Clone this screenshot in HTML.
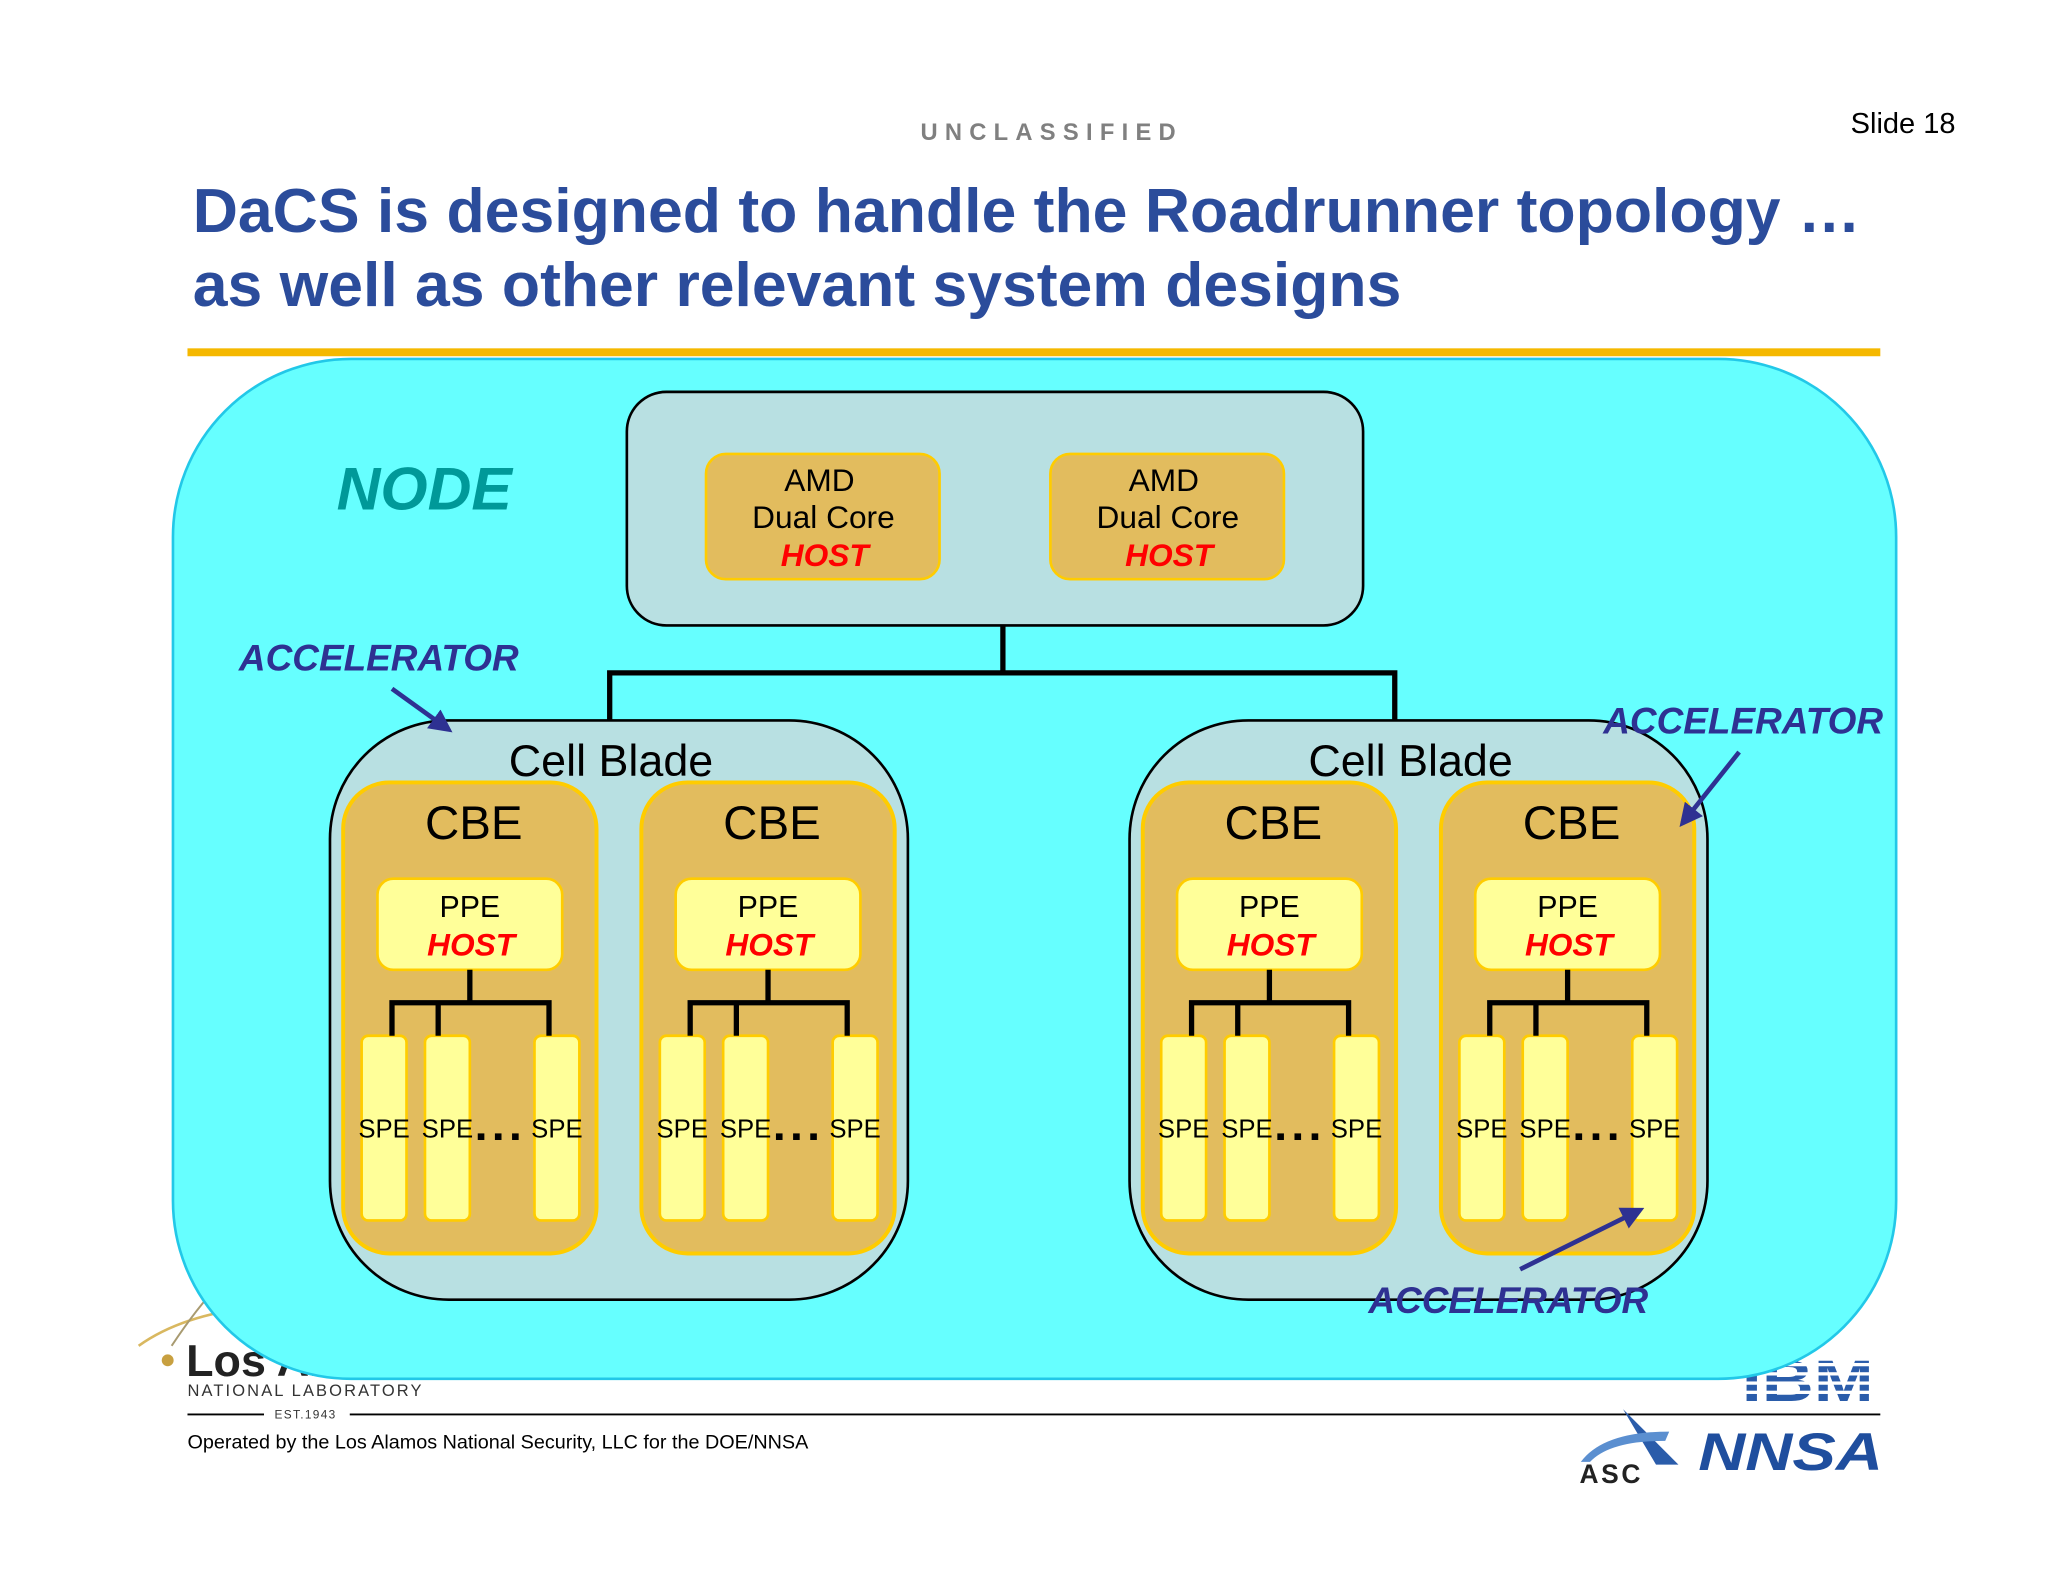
<!DOCTYPE html>
<html><head><meta charset="utf-8"><style>
html,body{margin:0;padding:0;background:#fff;}
svg{display:block;}
text{font-family:"Liberation Sans",Arial,sans-serif;}
</style></head><body>
<svg width="2048" height="1582" viewBox="0 0 1552 1199" xmlns="http://www.w3.org/2000/svg">
<defs>
<marker id="ah" markerWidth="5" markerHeight="5" refX="4" refY="2.5" orient="auto" markerUnits="strokeWidth">
<path d="M0,0 L5,2.5 L0,5 Z" fill="#2E3192"/></marker>
</defs>
<rect width="1552" height="1199" fill="#fff"/>
<text x="797" y="106" text-anchor="middle" font-size="18" font-weight="bold" fill="#808080" letter-spacing="5.5">UNCLASSIFIED</text>
<text x="1482" y="101" text-anchor="end" font-size="22" fill="#000">Slide 18</text>
<text x="146" y="176" font-size="47" font-weight="bold" fill="#2B4C9B" textLength="1264" lengthAdjust="spacingAndGlyphs">DaCS is designed to handle the Roadrunner topology …</text>
<text x="146" y="232" font-size="47" font-weight="bold" fill="#2B4C9B" textLength="916" lengthAdjust="spacingAndGlyphs">as well as other relevant system designs</text>
<rect x="142" y="264" width="1283" height="6" fill="#F5B800"/>

<path d="M105,1020 Q140,995 200,990" stroke="#D9B860" stroke-width="2" fill="none"/>
<path d="M130,1020 Q150,990 165,975" stroke="#A89A70" stroke-width="1.5" fill="none"/>
<circle cx="127" cy="1031" r="4.5" fill="#C8A040"/>
<text x="141" y="1043" font-size="34" font-weight="bold" fill="#222">Los Alamos</text>
<text x="142" y="1058" font-size="12.5" fill="#333" letter-spacing="1.6">NATIONAL LABORATORY</text>
<text x="208" y="1075" font-size="9" fill="#333" letter-spacing="1">EST.1943</text>
<line x1="142" y1="1072" x2="200" y2="1072" stroke="#000" stroke-width="1.5"/>
<line x1="265" y1="1072" x2="1425" y2="1072" stroke="#000" stroke-width="1.5"/>
<text x="142" y="1098" font-size="15" fill="#000">Operated by the Los Alamos National Security, LLC for the DOE/NNSA</text>

<text x="1320" y="1062" font-size="44" font-weight="bold" fill="#2A5CAA" textLength="100" lengthAdjust="spacingAndGlyphs">IBM</text>
<g fill="#fff">
<rect x="1318" y="1033" width="105" height="2.5"/><rect x="1318" y="1040" width="105" height="2.5"/>
<rect x="1318" y="1047" width="105" height="2.5"/><rect x="1318" y="1054" width="105" height="2.5"/>
</g>
<path d="M1230,1068 L1272,1110 L1255,1110 Z" fill="#2A5CAA"/>
<path d="M1198,1108 Q1215,1085 1265,1085 L1262,1092 Q1220,1092 1205,1108 Z" fill="#5B8FD0"/>
<text x="1197" y="1124" font-size="20" font-weight="bold" fill="#222" letter-spacing="2">ASC</text>
<text x="1287" y="1114" font-size="40" font-weight="bold" font-style="italic" fill="#1F4E9E" textLength="140" lengthAdjust="spacingAndGlyphs">NNSA</text>

<rect x="131" y="272" width="1306" height="773" rx="135" fill="#66FFFF" stroke="#22C8E8" stroke-width="2"/>
<text x="255" y="386" font-size="46" font-weight="bold" font-style="italic" fill="#009999">NODE</text>

<rect x="475" y="297" width="558" height="177" rx="30" fill="#B8E0E2" stroke="#000" stroke-width="2"/>
<rect x="535" y="344" width="177" height="95" rx="15" fill="#E2BC5E" stroke="#FFCC00" stroke-width="2"/>
<rect x="796" y="344" width="177" height="95" rx="15" fill="#E2BC5E" stroke="#FFCC00" stroke-width="2"/>
<g font-size="24" text-anchor="middle">
<text x="621" y="372">AMD</text><text x="624" y="400">Dual Core</text>
<text x="625" y="429" fill="#FF0000" font-weight="bold" font-style="italic">HOST</text>
<text x="882" y="372">AMD</text><text x="885" y="400">Dual Core</text>
<text x="886" y="429" fill="#FF0000" font-weight="bold" font-style="italic">HOST</text>
</g>
<path d="M760,474 V510 M462,546 V510 H1057 V546" stroke="#000" stroke-width="4" fill="none"/>

<rect x="250" y="546" width="438" height="439" rx="90" fill="#B8E0E2" stroke="#000" stroke-width="2"/>
<rect x="856" y="546" width="438" height="439" rx="90" fill="#B8E0E2" stroke="#000" stroke-width="2"/>
<text x="463" y="588" font-size="34" text-anchor="middle">Cell Blade</text>
<text x="1069" y="588" font-size="34" text-anchor="middle">Cell Blade</text>

<g stroke="#FFCC00" stroke-width="3" fill="#E2BC5E">
<rect x="260" y="593" width="192" height="357" rx="35"/>
<rect x="486" y="593" width="192" height="357" rx="35"/>
<rect x="866" y="593" width="192" height="357" rx="35"/>
<rect x="1092" y="593" width="192" height="357" rx="35"/>
</g>
<g font-size="36" text-anchor="middle">
<text x="359" y="636">CBE</text><text x="585" y="636">CBE</text>
<text x="965" y="636">CBE</text><text x="1191" y="636">CBE</text>
</g>
<g stroke="#FFCC00" stroke-width="2" fill="#FFFF99">
<rect x="286" y="666" width="140" height="69" rx="12"/>
<rect x="512" y="666" width="140" height="69" rx="12"/>
<rect x="892" y="666" width="140" height="69" rx="12"/>
<rect x="1118" y="666" width="140" height="69" rx="12"/>
<rect x="274" y="785" width="34" height="140" rx="5"/><rect x="322" y="785" width="34" height="140" rx="5"/><rect x="405" y="785" width="34" height="140" rx="5"/>
<rect x="500" y="785" width="34" height="140" rx="5"/><rect x="548" y="785" width="34" height="140" rx="5"/><rect x="631" y="785" width="34" height="140" rx="5"/>
<rect x="880" y="785" width="34" height="140" rx="5"/><rect x="928" y="785" width="34" height="140" rx="5"/><rect x="1011" y="785" width="34" height="140" rx="5"/>
<rect x="1106" y="785" width="34" height="140" rx="5"/><rect x="1154" y="785" width="34" height="140" rx="5"/><rect x="1237" y="785" width="34" height="140" rx="5"/>
</g>
<g font-size="23" text-anchor="middle">
<text x="356" y="695">PPE</text><text x="582" y="695">PPE</text><text x="962" y="695">PPE</text><text x="1188" y="695">PPE</text>
</g>
<g font-size="24" text-anchor="middle" fill="#FF0000" font-weight="bold" font-style="italic">
<text x="357" y="724">HOST</text><text x="583" y="724">HOST</text><text x="963" y="724">HOST</text><text x="1189" y="724">HOST</text>
</g>
<g stroke="#000" stroke-width="4" fill="none">
<path d="M356,735 V760 M297,785 V760 H416 V785 M332,760 V785"/>
<path d="M582,735 V760 M523,785 V760 H642 V785 M558,760 V785"/>
<path d="M962,735 V760 M903,785 V760 H1022 V785 M938,760 V785"/>
<path d="M1188,735 V760 M1129,785 V760 H1248 V785 M1164,760 V785"/>
</g>
<g font-size="19.5" text-anchor="middle">
<text x="291" y="862">SPE</text><text x="339" y="862">SPE</text><text x="422" y="862">SPE</text>
<text x="517" y="862">SPE</text><text x="565" y="862">SPE</text><text x="648" y="862">SPE</text>
<text x="897" y="862">SPE</text><text x="945" y="862">SPE</text><text x="1028" y="862">SPE</text>
<text x="1123" y="862">SPE</text><text x="1171" y="862">SPE</text><text x="1254" y="862">SPE</text>
</g>
<g fill="#000">
<rect x="362" y="859" width="5" height="5"/><rect x="375" y="859" width="5" height="5"/><rect x="388" y="859" width="5" height="5"/>
<rect x="588" y="859" width="5" height="5"/><rect x="601" y="859" width="5" height="5"/><rect x="614" y="859" width="5" height="5"/>
<rect x="968" y="859" width="5" height="5"/><rect x="981" y="859" width="5" height="5"/><rect x="994" y="859" width="5" height="5"/>
<rect x="1194" y="859" width="5" height="5"/><rect x="1207" y="859" width="5" height="5"/><rect x="1220" y="859" width="5" height="5"/>
</g>

<g font-size="28" font-weight="bold" font-style="italic" fill="#2E3192">
<text x="181" y="508">ACCELERATOR</text>
<text x="1215" y="556">ACCELERATOR</text>
<text x="1037" y="995">ACCELERATOR</text>
</g>
<g stroke="#2E3192" stroke-width="3.5" fill="none" marker-end="url(#ah)">
<line x1="297" y1="522" x2="340" y2="553"/>
<line x1="1318" y1="570" x2="1275" y2="624"/>
<line x1="1152" y1="962" x2="1243" y2="917"/>
</g>
</svg>
</body></html>
